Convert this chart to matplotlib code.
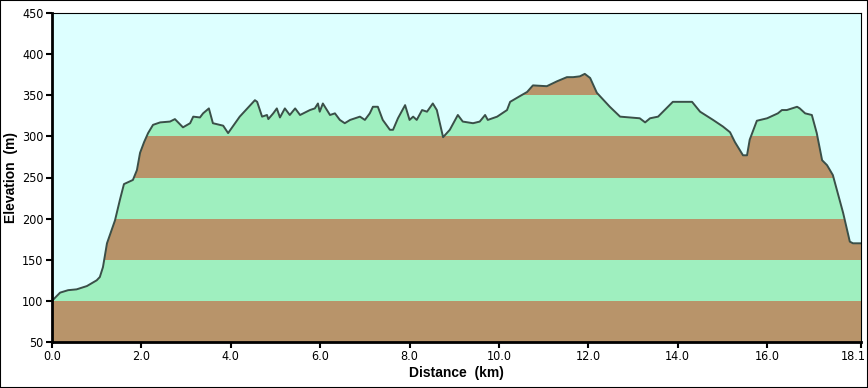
import matplotlib
matplotlib.use('Agg')
import matplotlib.pyplot as plt
import matplotlib.transforms as mtransforms
from matplotlib.patches import Rectangle
from matplotlib import font_manager

# distance (km) and elevation (m) read from the profile
dist_km = [0.0, 0.18, 0.36, 0.55, 0.78, 1.0, 1.07, 1.14, 1.23, 1.41, 1.52, 1.61, 1.81,
           1.9, 1.97, 2.06, 2.15, 2.26, 2.42, 2.64, 2.75, 2.93, 3.09, 3.16, 3.31, 3.38,
           3.51, 3.6, 3.83, 3.94, 4.2, 4.54, 4.59, 4.7, 4.81, 4.84, 4.95, 5.03, 5.1,
           5.21, 5.32, 5.44, 5.55, 5.77, 5.88, 5.95, 5.99, 6.06, 6.22, 6.33, 6.44, 6.55,
           6.67, 6.78, 6.89, 7.0, 7.11, 7.18, 7.29, 7.4, 7.56, 7.63, 7.74, 7.9, 8.0,
           8.08, 8.16, 8.28, 8.39, 8.52, 8.61, 8.75, 8.9, 9.08, 9.19, 9.42, 9.57, 9.69,
           9.75, 9.96, 10.18, 10.25, 10.47, 10.63, 10.76, 11.07, 11.3, 11.52, 11.66,
           11.81, 11.92, 12.04, 12.19, 12.48, 12.71, 13.15, 13.27, 13.38, 13.56, 13.67,
           13.89, 14.32, 14.5, 14.79, 15.01, 15.17, 15.28, 15.46, 15.55, 15.61, 15.77,
           16.0, 16.24, 16.33, 16.44, 16.67, 16.73, 16.85, 17.0, 17.11, 17.23, 17.34,
           17.47, 17.7, 17.85, 17.92, 18.1]
elev_m = [100, 110, 113, 114, 118, 125, 129, 141, 170, 198, 223, 242, 247,
          259, 280, 293, 304, 314, 317, 318, 321, 311, 316, 324, 323, 328,
          334, 316, 313, 304, 324, 344, 342, 324, 326, 321, 328, 334, 323,
          334, 326, 334, 326, 332, 334, 340, 330, 340, 326, 328, 320, 316,
          320, 322, 324, 320, 328, 336, 336, 320, 308, 308, 322, 338, 320,
          324, 320, 332, 330, 340, 332, 299, 308, 326, 318, 316, 318, 326,
          320, 324, 332, 342, 349, 354, 362, 361, 367, 372, 372,
          373, 376, 371, 353, 336, 324, 322, 317, 322, 324, 330,
          342, 342, 330, 320, 312, 305, 293, 277, 277, 296, 319,
          322, 328, 332, 332, 336, 334, 328, 326, 304, 271, 265,
          253, 207, 172, 170, 170]

x_ticks = [0, 2, 4, 6, 8, 10, 12, 14, 16, 18.1]
x_labels = ['0.0', '2.0', '4.0', '6.0', '8.0', '10.0', '12.0', '14.0', '16.0', '18.1']
y_ticks = [50, 100, 150, 200, 250, 300, 350, 400, 450]

bg_color = '#DDFFFF'
band_colors = ['#B8946A', '#9FEFBF']
line_color = '#3A4F48'

# narrow face for tick labels if one is there
names = {f.name for f in font_manager.fontManager.ttflist}
tick_font = 'Liberation Sans Narrow' if 'Liberation Sans Narrow' in names else 'DejaVu Sans'

fig = plt.figure(figsize=(8.68, 3.88), dpi=100)
ax = fig.add_axes([52 / 868, 46 / 388, 809 / 868, 329 / 388])
ax.set_facecolor(bg_color)

# terrain polygon, used as a clip path for the coloured bands
terrain = ax.fill_between(dist_km, 50, elev_m, color='none', linewidth=0)
clip = terrain.get_paths()[0]
for i, lo in enumerate(range(50, 450, 50)):
    band = ax.axhspan(lo, lo + 50, color=band_colors[i % 2], linewidth=0)
    band.set_clip_path(clip, ax.transData)

ax.plot(dist_km, elev_m, color=line_color, linewidth=1.4)

ax.set_xlim(0, 18.1)
ax.set_ylim(50, 450)
ax.set_xticks(x_ticks)
ax.set_xticklabels(x_labels)
ax.set_yticks(y_ticks)
ax.tick_params(direction='out', length=4, width=1.5, pad=2, colors='black')
for lab in ax.get_xticklabels() + ax.get_yticklabels():
    lab.set_family(tick_font)
    lab.set_stretch('condensed')
    lab.set_fontsize(10 if tick_font != 'DejaVu Sans' else 9)

# keep the last distance label inside the figure
last = ax.get_xticklabels()[-1]
last.set_horizontalalignment('right')
last.set_transform(last.get_transform() + mtransforms.ScaledTranslation(5 / 100, 0, fig.dpi_scale_trans))

for side in ['left', 'bottom']:
    ax.spines[side].set_linewidth(2)
for side in ['top', 'right']:
    ax.spines[side].set_linewidth(0.8)

ax.set_xlabel('Distance  (km)', fontsize=10, fontweight='bold', family='Liberation Sans', labelpad=2)
ax.set_ylabel('Elevation  (m)', fontsize=10, fontweight='bold', family='Liberation Sans', labelpad=3)

fig.patches.append(Rectangle((0, 0), 1, 1, transform=fig.transFigure, fill=False,
                             edgecolor='black', linewidth=1.5))

fig.savefig('out.png', dpi=100)
